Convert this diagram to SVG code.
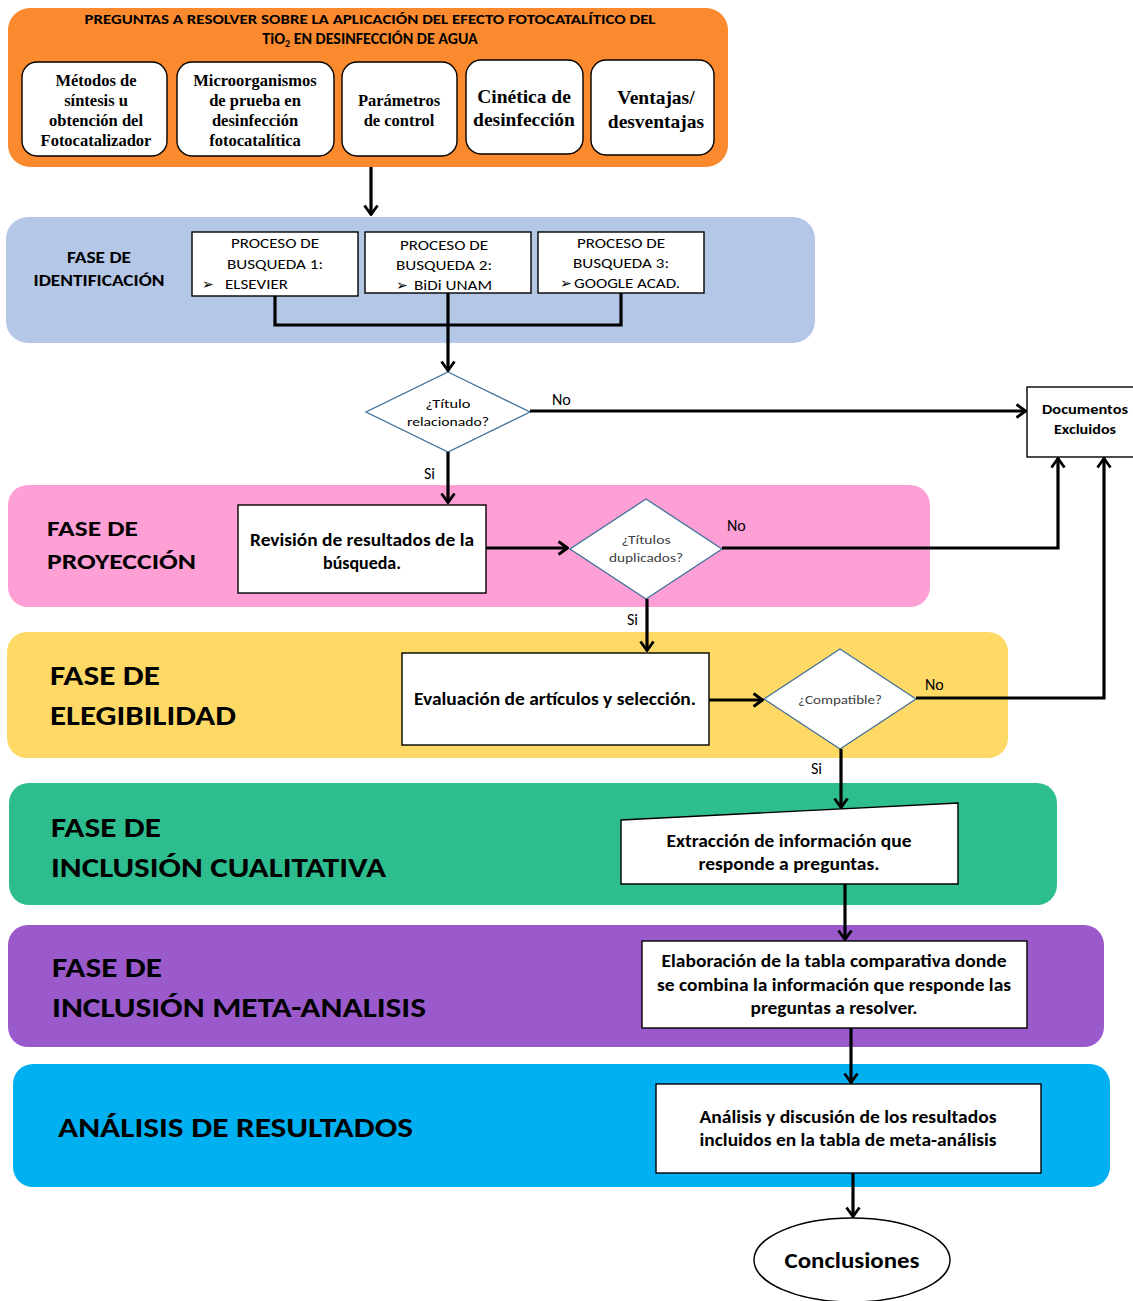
<svg xmlns="http://www.w3.org/2000/svg" width="1133" height="1301" viewBox="0 0 1133 1301">
<style>
.s{font-family:Carlito,"Liberation Sans Narrow","Liberation Sans",sans-serif;fill:#000}
.b{font-weight:bold}
.m{text-anchor:middle}
.sf{font-family:"Liberation Serif","Times New Roman",serif;font-weight:bold;text-anchor:middle;fill:#000}
.wb{fill:#fff;stroke:#000;stroke-width:1.4}
.rb{fill:#fff;stroke:#000;stroke-width:1.4}
.dm{fill:#fff;stroke:#41719C;stroke-width:1.3}
.c{fill:none;stroke:#000;stroke-width:3.2}
.dg{font-family:"DejaVu Sans",sans-serif}
</style>
<defs>
<marker id="arr" viewBox="0 0 12 16" refX="11" refY="8" markerWidth="12" markerHeight="16" orient="auto" markerUnits="userSpaceOnUse">
<path d="M1.5,1.5 L10.5,8 L1.5,14.5" fill="none" stroke="#000" stroke-width="2.8"/>
</marker>
</defs>

<g id="preguntas">
<rect x="8" y="8" width="720" height="159" rx="22" fill="#FB8A2E"/>
<text class="s b m" x="370" y="24" font-size="14.5" textLength="571" lengthAdjust="spacingAndGlyphs">PREGUNTAS A RESOLVER  SOBRE LA APLICACIÓN DEL EFECTO FOTOCATALÍTICO DEL</text>
<text class="s b m" x="370" y="44" font-size="16">TiO<tspan font-size="10" dy="3">2</tspan><tspan dy="-3"> EN DESINFECCIÓN DE AGUA</tspan></text>
</g>
<g id="q1">
<rect class="rb" x="22" y="62" width="145" height="94" rx="15"/>
<text class="sf" font-size="16.5"><tspan x="96" y="86">Métodos de</tspan><tspan x="96" y="106">síntesis u</tspan><tspan x="96" y="126">obtención del</tspan><tspan x="96" y="146">Fotocatalizador</tspan></text>
</g>
<g id="q2">
<rect class="rb" x="177" y="62" width="157" height="94" rx="15"/>
<text class="sf" font-size="16.5"><tspan x="255" y="86">Microorganismos</tspan><tspan x="255" y="106">de prueba en</tspan><tspan x="255" y="126">desinfección</tspan><tspan x="255" y="146">fotocatalítica</tspan></text>
</g>
<g id="q3">
<rect class="rb" x="342" y="62" width="115" height="94" rx="15"/>
<text class="sf" font-size="16.5"><tspan x="399" y="106">Parámetros</tspan><tspan x="399" y="126">de control</tspan></text>
</g>
<g id="q4">
<rect class="rb" x="466" y="60" width="117" height="94" rx="15"/>
<text class="sf" font-size="19.5"><tspan x="524" y="103">Cinética de</tspan><tspan x="524" y="126">desinfección</tspan></text>
</g>
<g id="q5">
<rect class="rb" x="591" y="60" width="123" height="95" rx="15"/>
<text class="sf" font-size="19.5"><tspan x="656" y="104">Ventajas/</tspan><tspan x="656" y="128">desventajas</tspan></text>
</g>

<g id="fase-identificacion">
<rect x="6" y="217" width="809" height="126" rx="22" fill="#B4C7E7"/>
<text class="s b m" x="99" y="263" font-size="16" textLength="64" lengthAdjust="spacingAndGlyphs">FASE DE</text>
<text class="s b m" x="99" y="286" font-size="16" textLength="131" lengthAdjust="spacingAndGlyphs">IDENTIFICACIÓN</text>
</g>
<g id="busqueda1">
<rect class="wb" x="192" y="232" width="166" height="64"/>
<text class="s m" x="275" y="248" font-size="14" textLength="88" lengthAdjust="spacingAndGlyphs">PROCESO DE</text>
<text class="s m" x="275" y="269" font-size="14" textLength="96" lengthAdjust="spacingAndGlyphs">BUSQUEDA 1:</text>
<text class="s dg" x="202" y="289" font-size="14">➢</text>
<text class="s" x="225" y="289" font-size="14" textLength="63" lengthAdjust="spacingAndGlyphs">ELSEVIER</text>
</g>
<g id="busqueda2">
<rect class="wb" x="365" y="232" width="166" height="61"/>
<text class="s m" x="444" y="250" font-size="14" textLength="88" lengthAdjust="spacingAndGlyphs">PROCESO DE</text>
<text class="s m" x="444" y="270" font-size="14" textLength="96" lengthAdjust="spacingAndGlyphs">BUSQUEDA 2:</text>
<text class="s dg" x="396" y="290" font-size="14">➢</text>
<text class="s" x="414" y="290" font-size="14" textLength="78" lengthAdjust="spacingAndGlyphs">BiDi UNAM</text>
</g>
<g id="busqueda3">
<rect class="wb" x="538" y="232" width="166" height="61"/>
<text class="s m" x="621" y="248" font-size="14" textLength="88" lengthAdjust="spacingAndGlyphs">PROCESO DE</text>
<text class="s m" x="621" y="268" font-size="14" textLength="96" lengthAdjust="spacingAndGlyphs">BUSQUEDA 3:</text>
<text class="s dg" x="560" y="288" font-size="14">➢</text>
<text class="s" x="574" y="288" font-size="14" textLength="106" lengthAdjust="spacingAndGlyphs">GOOGLE ACAD.</text>
</g>

<g id="fase-proyeccion">
<rect x="8" y="485" width="922" height="122" rx="20" fill="#FE9FD5"/>
<text class="s b" x="47" y="536" font-size="23" textLength="91" lengthAdjust="spacingAndGlyphs">FASE DE</text>
<text class="s b" x="47" y="569" font-size="23" textLength="149" lengthAdjust="spacingAndGlyphs">PROYECCIÓN</text>
</g>
<g id="fase-elegibilidad">
<rect x="7" y="632" width="1001" height="126" rx="20" fill="#FFD966"/>
<text class="s b" x="50" y="685" font-size="28" textLength="110" lengthAdjust="spacingAndGlyphs">FASE DE</text>
<text class="s b" x="50" y="725" font-size="28" textLength="186" lengthAdjust="spacingAndGlyphs">ELEGIBILIDAD</text>
</g>
<g id="fase-cualitativa">
<rect x="9" y="783" width="1048" height="122" rx="20" fill="#2EBD8E"/>
<text class="s b" x="51" y="837" font-size="28" textLength="110" lengthAdjust="spacingAndGlyphs">FASE DE</text>
<text class="s b" x="51" y="877" font-size="28" textLength="335" lengthAdjust="spacingAndGlyphs">INCLUSIÓN CUALITATIVA</text>
</g>
<g id="fase-meta">
<rect x="8" y="925" width="1096" height="122" rx="20" fill="#9A5ACB"/>
<text class="s b" x="52" y="977" font-size="28" textLength="110" lengthAdjust="spacingAndGlyphs">FASE DE</text>
<text class="s b" x="52" y="1017" font-size="28" textLength="374" lengthAdjust="spacingAndGlyphs">INCLUSIÓN META-ANALISIS</text>
</g>
<g id="fase-analisis">
<rect x="13" y="1064" width="1097" height="123" rx="20" fill="#00B0F0"/>
<text class="s b" x="58" y="1137" font-size="28" textLength="355" lengthAdjust="spacingAndGlyphs">ANÁLISIS DE RESULTADOS</text>
</g>

<g id="documentos-excluidos">
<rect class="wb" x="1027" y="387" width="112" height="70" stroke-width="1"/>
<text class="s b m" x="1085" y="414" font-size="14" textLength="86" lengthAdjust="spacingAndGlyphs">Documentos</text>
<text class="s b m" x="1085" y="434" font-size="14" textLength="62" lengthAdjust="spacingAndGlyphs">Excluidos</text>
</g>

<g id="titulo-relacionado">
<polygon class="dm" points="448,372 530,412 448,452 366,412"/>
<text class="s m" x="448" y="408" font-size="13" textLength="45" lengthAdjust="spacingAndGlyphs">¿Título</text>
<text class="s m" x="448" y="426" font-size="13" textLength="82" lengthAdjust="spacingAndGlyphs">relacionado?</text>
</g>
<g id="revision">
<rect class="wb" x="238" y="505" width="248" height="88"/>
<text class="s b m" x="362" y="546" font-size="17" textLength="224" lengthAdjust="spacingAndGlyphs">Revisión de resultados de la</text>
<text class="s b m" x="362" y="569" font-size="17" textLength="78" lengthAdjust="spacingAndGlyphs">búsqueda.</text>
</g>
<g id="titulos-duplicados">
<polygon class="dm" points="646,499 722,549 646,599 570,549"/>
<text class="s m" x="646" y="544" font-size="13" style="fill:#404040" textLength="49" lengthAdjust="spacingAndGlyphs">¿Títulos</text>
<text class="s m" x="646" y="562" font-size="13" style="fill:#404040" textLength="74" lengthAdjust="spacingAndGlyphs">duplicados?</text>
</g>
<g id="evaluacion">
<rect class="wb" x="402" y="653" width="307" height="92"/>
<text class="s b m" x="555" y="705" font-size="17" textLength="282" lengthAdjust="spacingAndGlyphs">Evaluación de artículos y selección.</text>
</g>
<g id="compatible">
<polygon class="dm" points="840,649 916,699 840,749 764,699"/>
<text class="s m" x="840" y="704" font-size="13" style="fill:#404040" textLength="84" lengthAdjust="spacingAndGlyphs">¿Compatible?</text>
</g>
<g id="extraccion">
<polygon class="wb" points="621,820 958,803 958,884 621,884"/>
<text class="s b m" x="789" y="847" font-size="17" textLength="245" lengthAdjust="spacingAndGlyphs">Extracción de información que</text>
<text class="s b m" x="789" y="870" font-size="17" textLength="181" lengthAdjust="spacingAndGlyphs">responde a preguntas.</text>
</g>
<g id="elaboracion">
<rect class="wb" x="642" y="941" width="385" height="87"/>
<text class="s b m" x="834" y="967" font-size="17" textLength="345" lengthAdjust="spacingAndGlyphs">Elaboración de la tabla comparativa donde</text>
<text class="s b m" x="834" y="991" font-size="17" textLength="354" lengthAdjust="spacingAndGlyphs">se combina la información que responde las</text>
<text class="s b m" x="834" y="1014" font-size="17" textLength="167" lengthAdjust="spacingAndGlyphs">preguntas a resolver.</text>
</g>
<g id="analisis">
<rect class="wb" x="656" y="1084" width="385" height="89"/>
<text class="s b m" x="848" y="1123" font-size="17" textLength="297" lengthAdjust="spacingAndGlyphs">Análisis y discusión de los resultados</text>
<text class="s b m" x="848" y="1146" font-size="17" textLength="297" lengthAdjust="spacingAndGlyphs">incluidos en la tabla de meta-análisis</text>
</g>
<g id="conclusiones">
<ellipse class="wb" cx="852" cy="1260" rx="98" ry="42"/>
<text class="s b m" x="852" y="1268" font-size="22" textLength="135" lengthAdjust="spacingAndGlyphs">Conclusiones</text>
</g>

<g id="connectors">
<line class="c" x1="371" y1="167" x2="371" y2="215" marker-end="url(#arr)"/>
<polyline class="c" points="275,296 275,325 621,325 621,293"/>
<line class="c" x1="448" y1="293" x2="448" y2="371" marker-end="url(#arr)"/>
<line class="c" x1="530" y1="411" x2="1026" y2="411" marker-end="url(#arr)"/>
<line class="c" x1="448" y1="452" x2="448" y2="503" marker-end="url(#arr)"/>
<line class="c" x1="486" y1="548" x2="568" y2="548" marker-end="url(#arr)"/>
<polyline class="c" points="722,548 1058,548 1058,458" marker-end="url(#arr)"/>
<line class="c" x1="647" y1="599" x2="647" y2="651" marker-end="url(#arr)"/>
<line class="c" x1="709" y1="700" x2="763" y2="700" marker-end="url(#arr)"/>
<polyline class="c" points="916,698 1104,698 1104,458" marker-end="url(#arr)"/>
<line class="c" x1="841" y1="749" x2="841" y2="808" marker-end="url(#arr)"/>
<line class="c" x1="845" y1="884" x2="845" y2="940" marker-end="url(#arr)"/>
<line class="c" x1="851" y1="1028" x2="851" y2="1083" marker-end="url(#arr)"/>
<line class="c" x1="853" y1="1173" x2="853" y2="1217" marker-end="url(#arr)"/>
<text class="s" x="552" y="405" font-size="16">No</text>
<text class="s" x="424" y="479" font-size="16">Si</text>
<text class="s" x="727" y="531" font-size="16">No</text>
<text class="s" x="627" y="625" font-size="16">Si</text>
<text class="s" x="925" y="690" font-size="16">No</text>
<text class="s" x="811" y="774" font-size="16">Si</text>
</g>
</svg>
